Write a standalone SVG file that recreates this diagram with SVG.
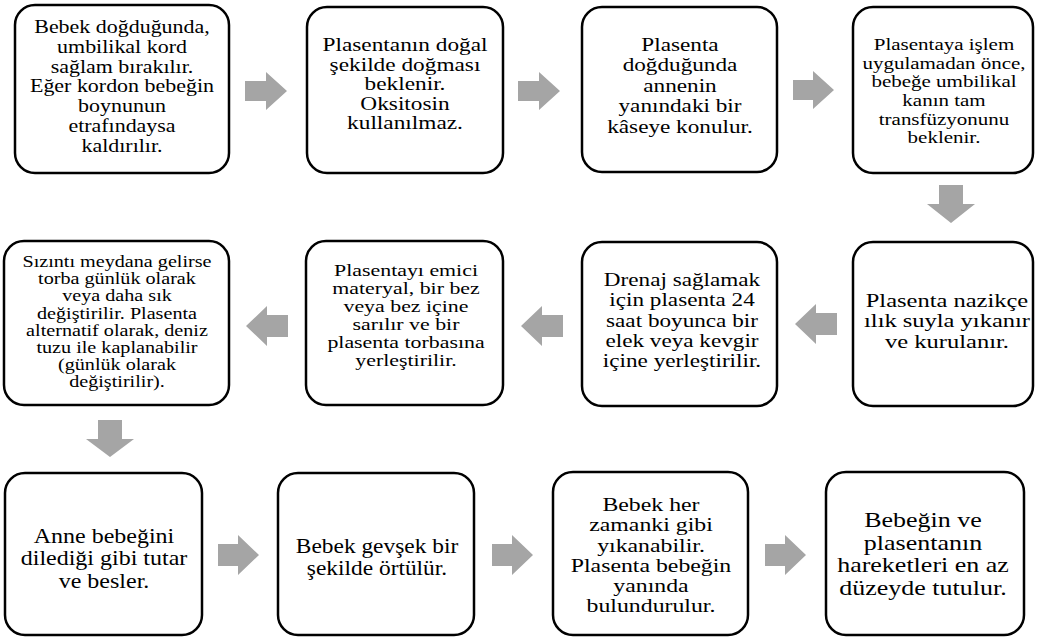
<svg xmlns="http://www.w3.org/2000/svg" width="1041" height="639" viewBox="0 0 1041 639">
<style>
.box{fill:#fff;stroke:#000;stroke-width:2.5}
.t{font-family:"Liberation Serif","Times New Roman",serif;fill:#000;text-anchor:middle}
.arr{fill:#a5a5a5}
</style>
<rect width="1041" height="639" fill="#fff"/>
<g id="connectors">
<path class="arr" d="M245,81 H266 V72 L287,91 L266,110 V101 H245 Z"/>
<path class="arr" d="M518,81 H539 V72 L560,91 L539,110 V101 H518 Z"/>
<path class="arr" d="M793,80 H813 V71 L834,90 L813,109 V100 H793 Z"/>
<path class="arr" d="M939,185 H963 V204 H975 L951,223 L927,204 H939 Z"/>
<path class="arr" d="M837,313 H816 V304 L795,324 L816,344 V335 H837 Z"/>
<path class="arr" d="M563,315 H542 V306 L521,326 L542,346 V337 H563 Z"/>
<path class="arr" d="M288,315 H267 V306 L246,326 L267,346 V337 H288 Z"/>
<path class="arr" d="M98,420 H122 V439 H134 L110,457 L86,439 H98 Z"/>
<path class="arr" d="M218,544 H238 V535 L259,555 L238,575 V566 H218 Z"/>
<path class="arr" d="M492,544 H512 V535 L533,555 L512,575 V566 H492 Z"/>
<path class="arr" d="M765,544 H785 V535 L806,555 L785,575 V566 H765 Z"/>
</g>
<g id="n1"><rect class="box" x="15" y="5" width="214" height="168" rx="20"/>
<text class="t" font-size="18" transform="translate(122,0) scale(1.22,1)"><tspan x="0" y="33">Bebek doğduğunda,</tspan><tspan x="0" y="52.8">umbilikal kord</tspan><tspan x="0" y="72.6">sağlam bırakılır.</tspan><tspan x="0" y="92.4">Eğer kordon bebeğin</tspan><tspan x="0" y="112.2">boynunun</tspan><tspan x="0" y="132">etrafındaysa</tspan><tspan x="0" y="151.8">kaldırılır.</tspan></text></g>
<g id="n2"><rect class="box" x="307" y="7" width="196" height="166" rx="20"/>
<text class="t" font-size="18.5" transform="translate(405,0) scale(1.26,1)"><tspan x="0" y="51">Plasentanın doğal</tspan><tspan x="0" y="70.6">şekilde doğması</tspan><tspan x="0" y="90.2">beklenir.</tspan><tspan x="0" y="109.8">Oksitosin</tspan><tspan x="0" y="129.4">kullanılmaz.</tspan></text></g>
<g id="n3"><rect class="box" x="582" y="7" width="195" height="165" rx="20"/>
<text class="t" font-size="19.5" transform="translate(680,0) scale(1.19,1)"><tspan x="0" y="51">Plasenta</tspan><tspan x="0" y="71.5">doğduğunda</tspan><tspan x="0" y="92">annenin</tspan><tspan x="0" y="112.5">yanındaki bir</tspan><tspan x="0" y="133">kâseye konulur.</tspan></text></g>
<g id="n4"><rect class="box" x="853" y="7" width="180" height="166" rx="20"/>
<text class="t" font-size="17.5" transform="translate(944,0) scale(1.2,1)"><tspan x="0" y="50">Plasentaya işlem</tspan><tspan x="0" y="68.7">uygulamadan önce,</tspan><tspan x="0" y="87.4">bebeğe umbilikal</tspan><tspan x="0" y="106.1">kanın tam</tspan><tspan x="0" y="124.8">transfüzyonunu</tspan><tspan x="0" y="143.5">beklenir.</tspan></text></g>
<g id="n5"><rect class="box" x="853" y="242" width="180" height="164" rx="20"/>
<text class="t" font-size="19" transform="translate(947,0) scale(1.29,1)"><tspan x="0" y="307">Plasenta nazikçe</tspan><tspan x="0" y="327.5">ılık suyla yıkanır</tspan><tspan x="0" y="348">ve kurulanır.</tspan></text></g>
<g id="n6"><rect class="box" x="582" y="242" width="195" height="164" rx="20"/>
<text class="t" font-size="19" transform="translate(682,0) scale(1.22,1)"><tspan x="0" y="286">Drenaj sağlamak</tspan><tspan x="0" y="306.3">için plasenta 24</tspan><tspan x="0" y="326.6">saat boyunca bir</tspan><tspan x="0" y="346.9">elek veya kevgir</tspan><tspan x="0" y="367.2">içine yerleştirilir.</tspan></text></g>
<g id="n7"><rect class="box" x="306" y="241" width="197" height="164" rx="20"/>
<text class="t" font-size="17.5" transform="translate(406,0) scale(1.25,1)"><tspan x="0" y="276">Plasentayı emici</tspan><tspan x="0" y="294">materyal, bir bez</tspan><tspan x="0" y="312">veya bez içine</tspan><tspan x="0" y="330">sarılır ve bir</tspan><tspan x="0" y="348">plasenta torbasına</tspan><tspan x="0" y="366">yerleştirilir.</tspan></text></g>
<g id="n8"><rect class="box" x="4" y="241" width="225" height="164" rx="20"/>
<text class="t" font-size="16" transform="translate(117,0) scale(1.26,1)"><tspan x="0" y="267">Sızıntı meydana gelirse</tspan><tspan x="0" y="284.2">torba günlük olarak</tspan><tspan x="0" y="301.4">veya daha sık</tspan><tspan x="0" y="318.6">değiştirilir. Plasenta</tspan><tspan x="0" y="335.8">alternatif olarak, deniz</tspan><tspan x="0" y="353">tuzu ile kaplanabilir</tspan><tspan x="0" y="370.2">(günlük olarak</tspan><tspan x="0" y="387.4">değiştirilir).</tspan></text></g>
<g id="n9"><rect class="box" x="5" y="473" width="197" height="162" rx="20"/>
<text class="t" font-size="20" transform="translate(104,0) scale(1.2,1)"><tspan x="0" y="543">Anne bebeğini</tspan><tspan x="0" y="565.5">dilediği gibi tutar</tspan><tspan x="0" y="588">ve besler.</tspan></text></g>
<g id="n10"><rect class="box" x="278" y="473" width="196" height="162" rx="20"/>
<text class="t" font-size="20" transform="translate(377,0) scale(1.17,1)"><tspan x="0" y="553">Bebek gevşek bir</tspan><tspan x="0" y="575">şekilde örtülür.</tspan></text></g>
<g id="n11"><rect class="box" x="553" y="472" width="195" height="163" rx="20"/>
<text class="t" font-size="19.5" transform="translate(651,0) scale(1.22,1)"><tspan x="0" y="511">Bebek her</tspan><tspan x="0" y="531.3">zamanki gibi</tspan><tspan x="0" y="551.6">yıkanabilir.</tspan><tspan x="0" y="571.9">Plasenta bebeğin</tspan><tspan x="0" y="592.2">yanında</tspan><tspan x="0" y="612.5">bulundurulur.</tspan></text></g>
<g id="n12"><rect class="box" x="826" y="472" width="198" height="163" rx="20"/>
<text class="t" font-size="20" transform="translate(923,0) scale(1.3,1)"><tspan x="0" y="527">Bebeğin ve</tspan><tspan x="0" y="549.7">plasentanın</tspan><tspan x="0" y="572.4">hareketleri en az</tspan><tspan x="0" y="595.1">düzeyde tutulur.</tspan></text></g>
</svg>
